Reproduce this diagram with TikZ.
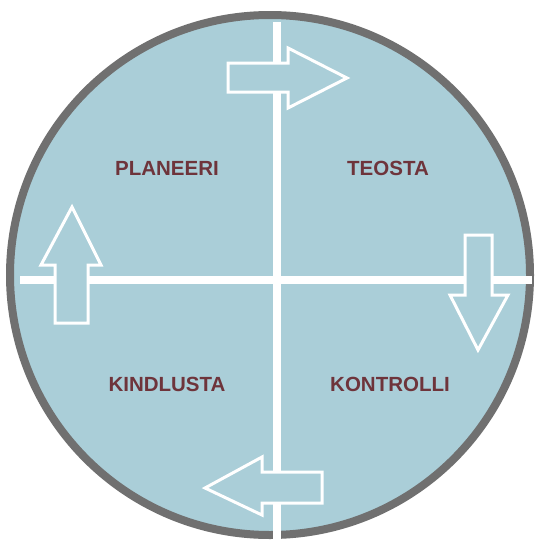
\documentclass[tikz,border=0pt]{standalone}
\usepackage{fontspec}
\setmainfont{Liberation Sans}
\definecolor{disc}{HTML}{AACED8}
\definecolor{ring}{HTML}{707070}
\definecolor{lbl}{HTML}{6E343B}
\begin{document}
\begin{tikzpicture}[x=1pt,y=-1pt,
  divider/.style={draw=white,line width=8pt},
  flowarrow/.style={fill=disc,draw=white,line width=3pt,line join=miter},
  quad/.style={font=\bfseries\fontsize{20.5}{24}\selectfont,text=lbl,inner sep=0pt}]
\useasboundingbox (0,0) rectangle (536,546);
\fill[white] (0,0) rectangle (536,546);
\filldraw[fill=disc,draw=ring,line width=8pt] (270,275) circle[radius=260];
\coordinate (vt) at (277,22);
\coordinate (vb) at (277,546);
\coordinate (hl) at (20,280);
\coordinate (hr) at (532,280);
\draw[divider] (vt) -- (vb);
\draw[divider] (hl) -- (hr);
% arrows
\draw[flowarrow] (228,63) -- (288,63) -- (288,48) -- (347,78) -- (288,108) -- (288,92) -- (228,92) -- cycle;
\draw[flowarrow] (465,235) -- (492,235) -- (492,295) -- (508,295) -- (478,350) -- (450,295) -- (465,295) -- cycle;
\draw[flowarrow] (322,472) -- (322,503) -- (262,503) -- (262,515) -- (205,488) -- (262,457) -- (262,472) -- cycle;
\draw[flowarrow] (55,323) -- (55,265) -- (41,265) -- (72,207) -- (101,265) -- (88,265) -- (88,323) -- cycle;
% labels
\node[quad] (plan) at (167,168) {PLANEERI};
\node[quad] (teo) at (388,168) {TEOSTA};
\node[quad] (kind) at (167,384) {KINDLUSTA};
\node[quad] (kont) at (390,384) {KONTROLLI};
\end{tikzpicture}
\end{document}
